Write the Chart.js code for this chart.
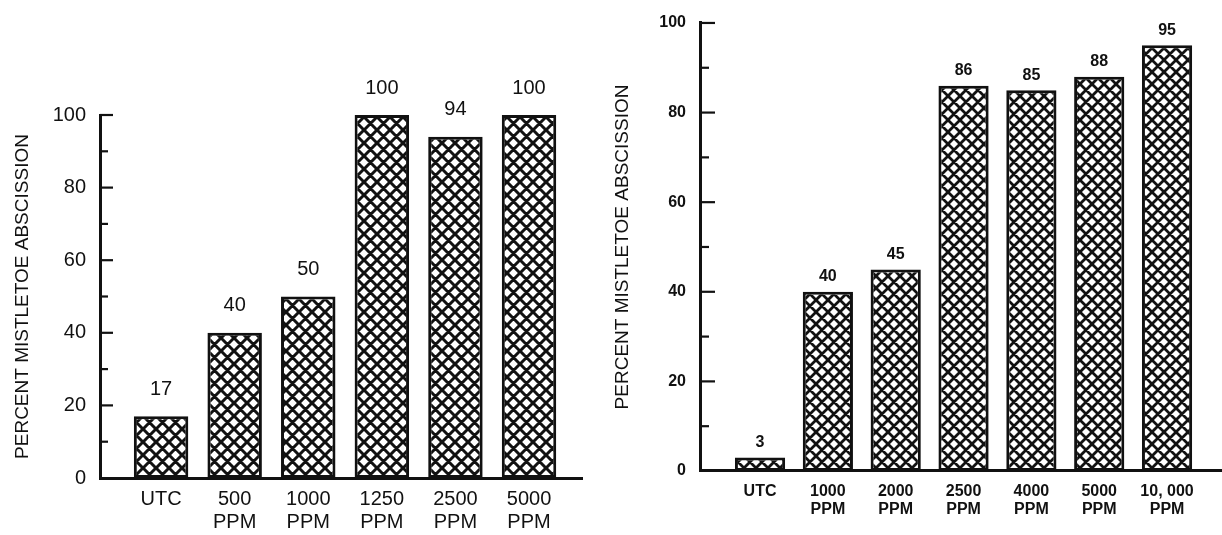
<!DOCTYPE html>
<html><head><meta charset="utf-8">
<script src="https://cdn.jsdelivr.net/npm/chart.js"></script>
<style>
html,body{margin:0;padding:0;background:#fff;width:1222px;height:535px;overflow:hidden}
canvas{position:absolute;top:0}
#left{left:0}
#right{left:600px}
</style></head><body>
<canvas id="left" width="600" height="535"></canvas>
<canvas id="right" width="622" height="535"></canvas>
<script>
const yAxisTitle = 'PERCENT MISTLETOE ABSCISSION';
const yTicks = [0, 20, 40, 60, 80, 100];
const leftCategories = [['UTC'], ['500', 'PPM'], ['1000', 'PPM'], ['1250', 'PPM'], ['2500', 'PPM'], ['5000', 'PPM']];
const leftValues = [17, 40, 50, 100, 94, 100];
const rightCategories = [['UTC'], ['1000', 'PPM'], ['2000', 'PPM'], ['2500', 'PPM'], ['4000', 'PPM'], ['5000', 'PPM'], ['10, 000', 'PPM']];
const rightValues = [3, 40, 45, 86, 85, 88, 95];

const INK = '#111';

function hatch(size, lw) {
  const c = document.createElement('canvas');
  c.width = size; c.height = size;
  const g = c.getContext('2d');
  g.fillStyle = '#fff'; g.fillRect(0, 0, size, size);
  g.strokeStyle = INK; g.lineWidth = lw;
  g.beginPath();
  for (let k = -1; k <= 1; k++) {
    g.moveTo(-size, -size + k * size); g.lineTo(2 * size, 2 * size + k * size);
    g.moveTo(2 * size, -size + k * size); g.lineTo(-size, 2 * size + k * size);
  }
  g.stroke();
  return g.createPattern(c, 'repeat');
}

function makeChart(id, cats, vals, o) {
  const canvas = document.getElementById(id);
  const ctx = canvas.getContext('2d');
  const pattern = hatch(o.tile, o.hatchWidth);
  const tickFont = { family: 'Liberation Sans', size: o.fontSize, weight: o.weight, lineHeight: o.lineHeight };
  const decor = {
    id: 'decor',
    afterDraw(chart) {
      const c = chart.ctx;
      const ys = chart.scales.y;
      const area = chart.chartArea;
      c.save();
      c.strokeStyle = INK; c.lineWidth = 2.2;
      for (let v = 10; v <= 100; v += 10) {
        const y = ys.getPixelForValue(v);
        const len = v % 20 === 0 ? o.major : o.minor;
        c.beginPath(); c.moveTo(area.left, y); c.lineTo(area.left + len, y); c.stroke();
      }
      c.fillStyle = INK;
      c.font = (o.weight === 'bold' ? 'bold ' : '') + o.valueSize + 'px "Liberation Sans"';
      c.textAlign = 'center'; c.textBaseline = 'middle';
      const meta = chart.getDatasetMeta(0);
      meta.data.forEach((bar, i) => {
        c.fillText(String(vals[i]), bar.x, bar.y - o.valueOff);
      });
      c.restore();
    }
  };
  return new Chart(ctx, {
    type: 'bar',
    data: {
      datasets: [{
        data: vals.map((v, i) => ({ x: i, y: v })),
        backgroundColor: pattern,
        borderColor: INK,
        borderWidth: 3,
        borderSkipped: false,
        categoryPercentage: 1,
        barPercentage: 0.74
      }]
    },
    options: {
      responsive: false,
      animation: false,
      devicePixelRatio: 1,
      layout: { padding: { left: 0, top: o.top, right: o.right, bottom: 0 } },
      plugins: { legend: { display: false }, tooltip: { enabled: false } },
      scales: {
        x: {
          type: 'linear', min: o.xmin, max: o.xmax, offset: false,
          grid: { display: false, drawTicks: false, offset: false },
          border: { display: true, color: INK, width: 3 },
          afterBuildTicks: s => { s.ticks = cats.map((_, i) => ({ value: i })); },
          afterFit: s => { s.height = o.xh; },
          ticks: {
            autoSkip: false, maxRotation: 0, minRotation: 0, padding: o.xPad,
            color: INK, font: tickFont,
            callback: v => cats[v]
          }
        },
        y: {
          min: 0, max: 100,
          grid: { display: false, drawTicks: false },
          border: { display: true, color: INK, width: 3 },
          afterBuildTicks: s => { s.ticks = yTicks.map(v => ({ value: v })); },
          afterFit: s => { s.width = 100; },
          ticks: { padding: 14, color: INK, font: tickFont },
          title: {
            display: true, text: yAxisTitle, color: INK,
            font: { family: 'Liberation Sans', size: 19, weight: 'normal', lineHeight: 1.2 },
            padding: { top: 11, bottom: 0 }
          }
        }
      }
    },
    plugins: [decor]
  });
}

makeChart('left', leftCategories, leftValues, {
  tile: 13, hatchWidth: 3, fontSize: 20, weight: 'normal', lineHeight: 1.15, valueSize: 20, valueOff: 27,
  top: 115, right: 18, xh: 57, xPad: 10, xmin: -0.83, xmax: 5.72, major: 13, minor: 8
});
makeChart('right', rightCategories, rightValues, {
  tile: 12, hatchWidth: 2.8, fontSize: 16, weight: 'bold', lineHeight: 1.12, valueSize: 16, valueOff: 15,
  top: 16, right: 0, xh: 64, xPad: 12, xmin: -0.885, xmax: 6.81, major: 15, minor: 9
});
</script>
</body></html>
